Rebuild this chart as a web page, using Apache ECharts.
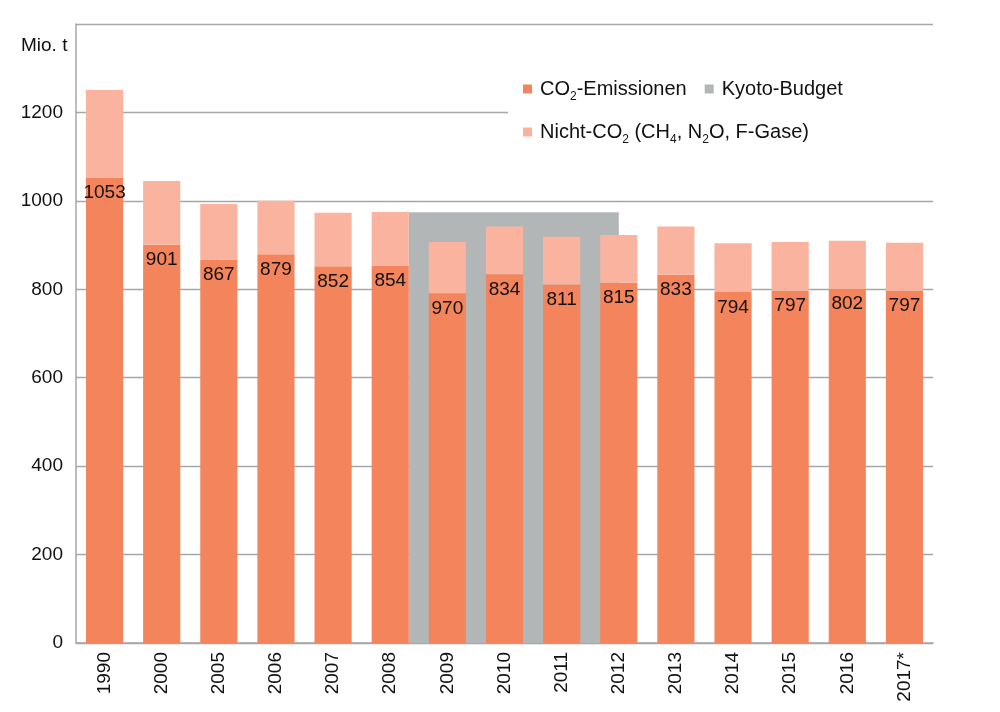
<!DOCTYPE html>
<html>
<head>
<meta charset="utf-8">
<script src="https://cdn.jsdelivr.net/npm/echarts@6/dist/echarts.min.js"></script>
<style>
  html, body { margin: 0; padding: 0; background: #fff; }
  #chart { width: 1000px; height: 712px; }
</style>
</head>
<body>
<div id="chart"></div>
<script>
// data
const years = ["1990", "2000", "2005", "2006", "2007", "2008", "2009", "2010",
  "2011", "2012", "2013", "2014", "2015", "2016", "2017*"];
const co2 = [1053, 901, 867, 879, 852, 854, 791, 834, 811, 815, 833, 794, 797, 802, 797];
const nonCo2 = [198, 144, 126, 121, 121, 121, 116, 108, 108, 108, 109, 110, 110, 108, 108];
// labels as printed in the original (2009 reads 970)
const co2Labels = ["1053", "901", "867", "879", "852", "854", "970", "834",
  "811", "815", "833", "794", "797", "802", "797"];
const kyotoBudget = 974;
// in category units: from right edge of the 2008 bar to the middle of 2012
const kyotoFrom = 5.825;
const kyotoTo = 9.5;

const FONT = "Liberation Sans, Arial, sans-serif";
const C_CO2 = "#f3845c";
const C_NON = "#f9b39e";
const C_KYOTO = "#b3b6b7";
const C_GRID = "#a6a6a6";
const C_TEXT = "#111";

const chart = echarts.init(document.getElementById("chart"));

const legendNames = {
  co2: "CO{sub|2}-Emissionen",
  kyoto: "Kyoto-Budget",
  non: "Nicht-CO{sub|2} (CH{sub|4}, N{sub|2}O, F-Gase)",
};
const legendText = {
  color: C_TEXT,
  fontSize: 20,
  fontFamily: FONT,
  padding: [0, 0, 0, 3],
  rich: {
    sub: { fontSize: 12, fontFamily: FONT, color: C_TEXT, padding: [15, 0, 0, 0] },
  },
};

chart.setOption({
  animation: false,
  title: {
    text: "Mio. t",
    left: 16,
    top: 31,
    textStyle: { fontSize: 19, fontWeight: "normal", color: C_TEXT, fontFamily: FONT },
  },
  graphic: [
    {
      type: "rect",
      z: 3,
      shape: { x: 508, y: 70, width: 428, height: 82 },
      style: { fill: "#fff" },
    },
  ],
  legend: [
    {
      data: ["co2", "kyoto"],
      left: 507,
      top: 79,
      padding: [0, 0, 0, 16],
      icon: "rect",
      itemWidth: 9,
      itemHeight: 9,
      itemGap: 18,
      formatter: (n) => legendNames[n],
      textStyle: legendText,
    },
    {
      data: ["non"],
      left: 507,
      top: 122,
      padding: [0, 0, 0, 16],
      icon: "rect",
      itemWidth: 9,
      itemHeight: 9,
      formatter: (n) => legendNames[n],
      textStyle: legendText,
    },
  ],
  grid: { left: 76, right: 67, top: 24, bottom: 69 },
  xAxis: [
    {
      type: "category",
      data: years,
      axisLine: { lineStyle: { color: C_GRID, width: 1.5 } },
      axisTick: { show: false },
      axisLabel: {
        rotate: 90,
        margin: 9,
        fontSize: 19,
        color: C_TEXT,
        fontFamily: FONT,
      },
    },
    {
      type: "value",
      min: 0,
      max: years.length,
      show: false,
    },
  ],
  yAxis: {
    type: "value",
    min: 0,
    max: 1400,
    interval: 200,
    axisLine: { show: true, lineStyle: { color: C_GRID, width: 1.5 } },
    axisTick: { show: false },
    splitLine: { lineStyle: { color: C_GRID, width: 1.3 } },
    axisLabel: {
      showMaxLabel: false,
      margin: 13,
      fontSize: 19,
      color: C_TEXT,
      fontFamily: FONT,
      formatter: (v) => String(v),
    },
  },
  series: [
    {
      name: "kyoto",
      type: "line",
      xAxisIndex: 1,
      data: [[kyotoFrom, kyotoBudget], [kyotoTo, kyotoBudget]],
      symbol: "none",
      lineStyle: { width: 0, color: C_KYOTO },
      itemStyle: { color: C_KYOTO },
      areaStyle: { color: C_KYOTO, opacity: 1 },
      z: 1,
    },
    {
      name: "co2",
      type: "bar",
      stack: "total",
      barWidth: "65%",
      data: co2,
      itemStyle: { color: C_CO2 },
      label: {
        show: true,
        position: "insideTop",
        distance: 6,
        fontSize: 19,
        color: C_TEXT,
        fontFamily: FONT,
        formatter: (p) => co2Labels[p.dataIndex],
      },
      z: 2,
    },
    {
      name: "non",
      type: "bar",
      stack: "total",
      barWidth: "65%",
      data: nonCo2,
      itemStyle: { color: C_NON },
      z: 2,
    },
  ],
});
</script>
</body>
</html>
